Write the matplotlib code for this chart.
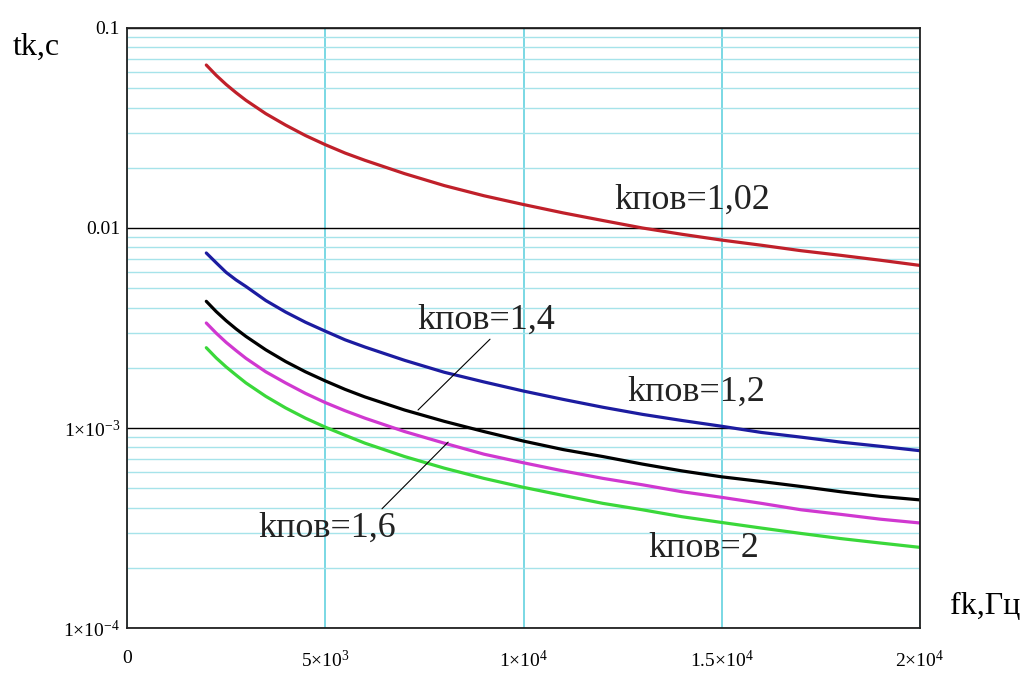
import matplotlib
matplotlib.use("Agg")
import matplotlib.pyplot as plt

plt.rcParams.update({
    "font.family": ["Liberation Serif", "DejaVu Serif"],
    "mathtext.fontset": "custom",
    "mathtext.rm": "Liberation Serif",
    "mathtext.it": "Liberation Serif:italic",
    "figure.dpi": 100,
})

# frequency, Hz
f = [2000, 2250, 2500, 2750, 3000, 3500, 4000, 4500, 5000, 5500, 6000, 7000, 8000, 9000,
     10000, 11000, 12000, 13000, 14000, 15000, 16000, 17000, 18000, 19000, 20000]

# t_k, s
t_102 = [0.0653, 0.0580, 0.0522, 0.0475, 0.0435, 0.0373, 0.0327, 0.0290, 0.0261, 0.0237,
         0.0218, 0.0187, 0.0163, 0.0145, 0.0131, 0.0119, 0.0109, 0.0100, 0.0093, 0.0087,
         0.0082, 0.0077, 0.0073, 0.0069, 0.0065]
t_12 = [0.0075, 0.0067, 0.0060, 0.0055, 0.0051, 0.00434, 0.0038, 0.00338, 0.00305, 0.00276,
        0.00254, 0.00218, 0.0019, 0.0017, 0.00153, 0.00139, 0.00127, 0.00117, 0.00109, 0.00102,
        0.00095, 0.0009, 0.00085, 0.00081, 0.00077]
t_14 = [0.0043, 0.00382, 0.00344, 0.00313, 0.00287, 0.00246, 0.00215, 0.00191, 0.00172, 0.00156,
        0.00143, 0.00123, 0.00108, 0.00096, 0.00086, 0.00078, 0.00072, 0.00066, 0.00061, 0.00057,
        0.00054, 0.00051, 0.00048, 0.000455, 0.000437]
t_16 = [0.00335, 0.00298, 0.00268, 0.00244, 0.00223, 0.00191, 0.00168, 0.00149, 0.00134, 0.00122,
        0.00112, 0.00096, 0.00084, 0.00074, 0.00067, 0.00061, 0.00056, 0.00052, 0.00048, 0.00045,
        0.00042, 0.00039, 0.00037, 0.00035, 0.000335]
t_2 = [0.00252, 0.00224, 0.00202, 0.00184, 0.00168, 0.00144, 0.00126, 0.00112, 0.00101, 0.00092,
       0.00084, 0.00072, 0.00063, 0.00056, 0.000505, 0.00046, 0.00042, 0.00039, 0.00036, 0.000337,
       0.000316, 0.000297, 0.00028, 0.000266, 0.000253]

xticks = [0, 5000, 10000, 15000, 20000]
xticklabels = ["0", "5×10$^{3}$", "1×10$^{4}$", "1.5×10$^{4}$", "2×10$^{4}$"]
yticks = [1e-4, 1e-3, 0.01, 0.1]
yticklabels = ["1×10$^{-4}$", "1×10$^{-3}$", "0.01", "0.1"]

fig = plt.figure(figsize=(10.35, 6.73))
ax = fig.add_axes([127 / 1035, 45 / 673, 793 / 1035, 600 / 673])

style = dict(lw=2.3, solid_joinstyle="round", solid_capstyle="round")
ax.plot(f, t_102, color="#c0202a", **style)
ax.plot(f, t_12, color="#1c1ca0", **style)
ax.plot(f, t_14, color="black", **style)
ax.plot(f, t_16, color="#d038d0", **style)
ax.plot(f, t_2, color="#3ad83a", **style)

ax.set_yscale("log")
ax.set_xlim(0, 20000)
ax.set_ylim(1e-4, 0.1)
ax.set_xticks(xticks)
ax.set_xticklabels(xticklabels, fontsize=14)
ax.set_yticks(yticks)
ax.set_yticklabels(yticklabels, fontsize=14)
ax.tick_params(which="both", length=0)
ax.tick_params(axis="x", pad=16)
ax.tick_params(axis="y", pad=5)

ax.yaxis.grid(True, which="minor", color="#a6e3ea", lw=1.0)
ax.yaxis.grid(True, which="major", color="black", lw=1.0)
ax.xaxis.grid(True, which="major", color="#6fd6e2", lw=1.3)
ax.set_axisbelow(True)
for sp in ax.spines.values():
    sp.set_linewidth(1.3)
    sp.set_color("#222222")

lab = dict(fontsize=26, ha="left", va="center", color="#222222")
ax.text(12300, 0.0138, "kпов=1,02", **lab)
ax.text(12610, 0.00151, "kпов=1,2", **lab)
ax.text(13140, 0.000251, "kпов=2", **lab)
ax.annotate("kпов=1,4", xy=(7340, 0.00123), xytext=(7314, 0.00347),
            arrowprops=dict(arrowstyle="-", color="black", lw=0.8,
                            shrinkA=0, shrinkB=0, relpos=(0.55, 0)), **lab)
ax.annotate("kпов=1,6", xy=(8100, 0.00085), xytext=(3304, 0.000316),
            arrowprops=dict(arrowstyle="-", color="black", lw=0.8,
                            shrinkA=0, shrinkB=0, relpos=(0.88, 1.0)), **lab)

fig.text(13 / 1035, 1 - 47 / 673, "tk,c", fontsize=23, ha="left", va="center")
fig.text(950 / 1035, 1 - 607 / 673, "fk,Гц", fontsize=23, ha="left", va="center")

fig.savefig("out.png", dpi=100)
